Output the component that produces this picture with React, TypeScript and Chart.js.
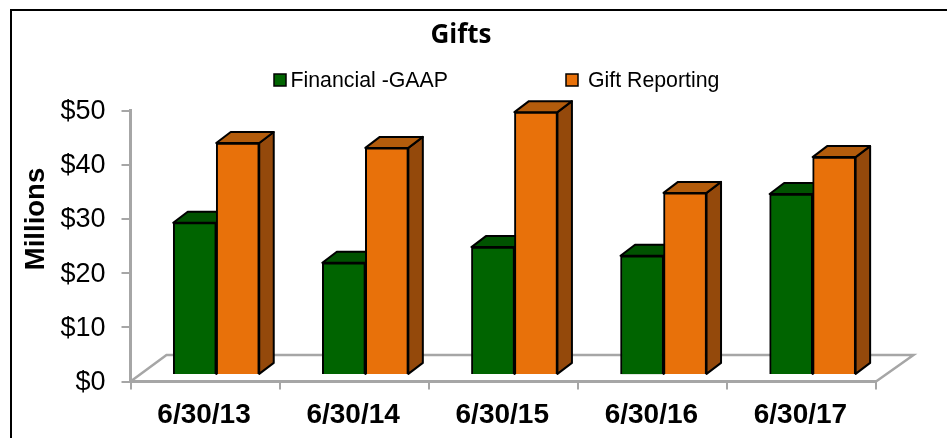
import React, { useEffect, useRef } from "react";
import { Chart, registerables } from "chart.js";

Chart.register(...registerables);

const categories = ["6/30/13", "6/30/14", "6/30/15", "6/30/16", "6/30/17"];
const financialGaap = [27.9, 20.5, 23.4, 21.8, 33.2];
const giftReporting = [42.6, 41.7, 48.3, 33.4, 40.0];
const yTicks = [0, 10, 20, 30, 40, 50];

const SANS = '"Liberation Sans", Arial, sans-serif';
const GRAY = "#a6a6a6";
const DX = 14.5;
const DY = 11;

const faces: Record<string, { top: string; side: string }> = {
  "Financial -GAAP": { top: "#005200", side: "#004800" },
  "Gift Reporting": { top: "#b35c0c", side: "#94490b" },
};

const scenePlugin = {
  id: "scene",
  beforeDatasetsDraw(chart: any) {
    const { ctx, chartArea } = chart;
    const { left, right, bottom } = chartArea;
    ctx.save();
    ctx.strokeStyle = GRAY;
    ctx.lineWidth = 2.5;
    ctx.beginPath();
    ctx.moveTo(left, bottom);
    ctx.lineTo(left + 36, bottom - 26.5);
    ctx.lineTo(right + 37.5, bottom - 26.5);
    ctx.lineTo(right, bottom);
    ctx.stroke();
    ctx.strokeStyle = "#000";
    ctx.lineWidth = 2;
    ctx.lineJoin = "round";
    chart.data.datasets.forEach((ds: any, i: number) => {
      const c = faces[ds.label];
      chart.getDatasetMeta(i).data.forEach((b: any) => {
        const l = b.x - b.width / 2;
        const r = b.x + b.width / 2;
        ctx.fillStyle = c.side;
        ctx.beginPath();
        ctx.moveTo(r, b.y);
        ctx.lineTo(r + DX, b.y - DY);
        ctx.lineTo(r + DX, b.base - DY);
        ctx.lineTo(r, b.base);
        ctx.closePath();
        ctx.fill();
        ctx.stroke();
        ctx.fillStyle = c.top;
        ctx.beginPath();
        ctx.moveTo(l, b.y);
        ctx.lineTo(l + DX, b.y - DY);
        ctx.lineTo(r + DX, b.y - DY);
        ctx.lineTo(r, b.y);
        ctx.closePath();
        ctx.fill();
        ctx.stroke();
      });
    });
    ctx.restore();
  },
  afterDraw(chart: any) {
    const { ctx, width, height } = chart;
    ctx.save();
    ctx.strokeStyle = "#000";
    ctx.lineWidth = 2;
    ctx.beginPath();
    ctx.moveTo(11, height);
    ctx.lineTo(11, 10);
    ctx.lineTo(width, 10);
    ctx.stroke();
    ctx.fillStyle = "#000";
    ctx.textBaseline = "middle";
    ctx.textAlign = "center";
    ctx.font = 'bold 26px "Open Sans", sans-serif';
    ctx.fillText("Gifts", 461, 36);
    const boxes = [274, 566];
    const texts = [290.5, 588];
    ctx.textAlign = "left";
    ctx.font = `21.3px ${SANS}`;
    chart.data.datasets.forEach((ds: any, i: number) => {
      ctx.fillStyle = ds.backgroundColor;
      ctx.fillRect(boxes[i], 74, 12, 12);
      ctx.strokeStyle = "#000";
      ctx.lineWidth = 1.5;
      ctx.strokeRect(boxes[i], 74, 12, 12);
      ctx.fillStyle = "#000";
      ctx.fillText(ds.label, texts[i], 81);
    });
    ctx.translate(36.5, 219);
    ctx.rotate(-Math.PI / 2);
    ctx.textAlign = "center";
    ctx.font = `bold 27.5px ${SANS}`;
    ctx.fillText("Millions", 0, 0);
    ctx.restore();
  },
};

export default function App() {
  const ref = useRef<HTMLCanvasElement>(null);
  useEffect(() => {
    document.body.style.margin = "0";
    document.body.style.background = "#fff";
    const chart = new Chart(ref.current!, {
      type: "bar",
      data: {
        datasets: [
          {
            label: "Financial -GAAP",
            data: financialGaap.map((y, x) => ({ x, y })),
            backgroundColor: "#006400",
            borderColor: "#000",
            borderWidth: 2,
            xAxisID: "xBars",
            yAxisID: "yBars",
            clip: false,
          },
          {
            label: "Gift Reporting",
            data: giftReporting.map((y, x) => ({ x, y })),
            backgroundColor: "#e8710a",
            borderColor: "#000",
            borderWidth: 2,
            xAxisID: "xBars",
            yAxisID: "yBars",
            clip: false,
          },
        ],
      } as any,
      options: {
        responsive: false,
        animation: false,
        layout: { padding: { top: 110.5, right: 71, left: 0, bottom: 0 } },
        datasets: { bar: { barThickness: 43 } },
        plugins: { legend: { display: false }, title: { display: false }, tooltip: { enabled: false } },
        scales: {
          x: {
            type: "category",
            labels: categories,
            offset: true,
            position: "bottom",
            border: { color: GRAY, width: 3 },
            grid: { offset: true, drawOnChartArea: false, color: GRAY, tickColor: GRAY, lineWidth: 2, tickLength: 8 },
            ticks: { color: "#000", padding: 9, labelOffset: -1, maxRotation: 0, font: { family: SANS, size: 28, weight: "bold" } },
            afterFit: (s: any) => { s.height = 56.5; },
          },
          y: {
            type: "linear",
            min: 0,
            max: 50,
            position: "left",
            border: { color: GRAY, width: 3 },
            grid: { drawOnChartArea: false, color: GRAY, tickColor: GRAY, lineWidth: 2, tickLength: 9 },
            ticks: {
              color: "#000",
              padding: 16,
              labelOffset: 1,
              font: { family: SANS, size: 27 },
              callback: (v: any) => `$${v}`,
            },
            afterBuildTicks: (s: any) => { s.ticks = yTicks.map((value) => ({ value })); },
            afterFit: (s: any) => { s.width = 130.5; },
          },
          xBars: { type: "linear", display: false, min: -0.575, max: 4.425, offset: false },
          yBars: { type: "linear", display: false, min: -1.4, max: 48.6 },
        },
      } as any,
      plugins: [scenePlugin],
    });
    return () => chart.destroy();
  }, []);
  return <canvas ref={ref} width={947} height={438} style={{ display: "block" }} />;
}
